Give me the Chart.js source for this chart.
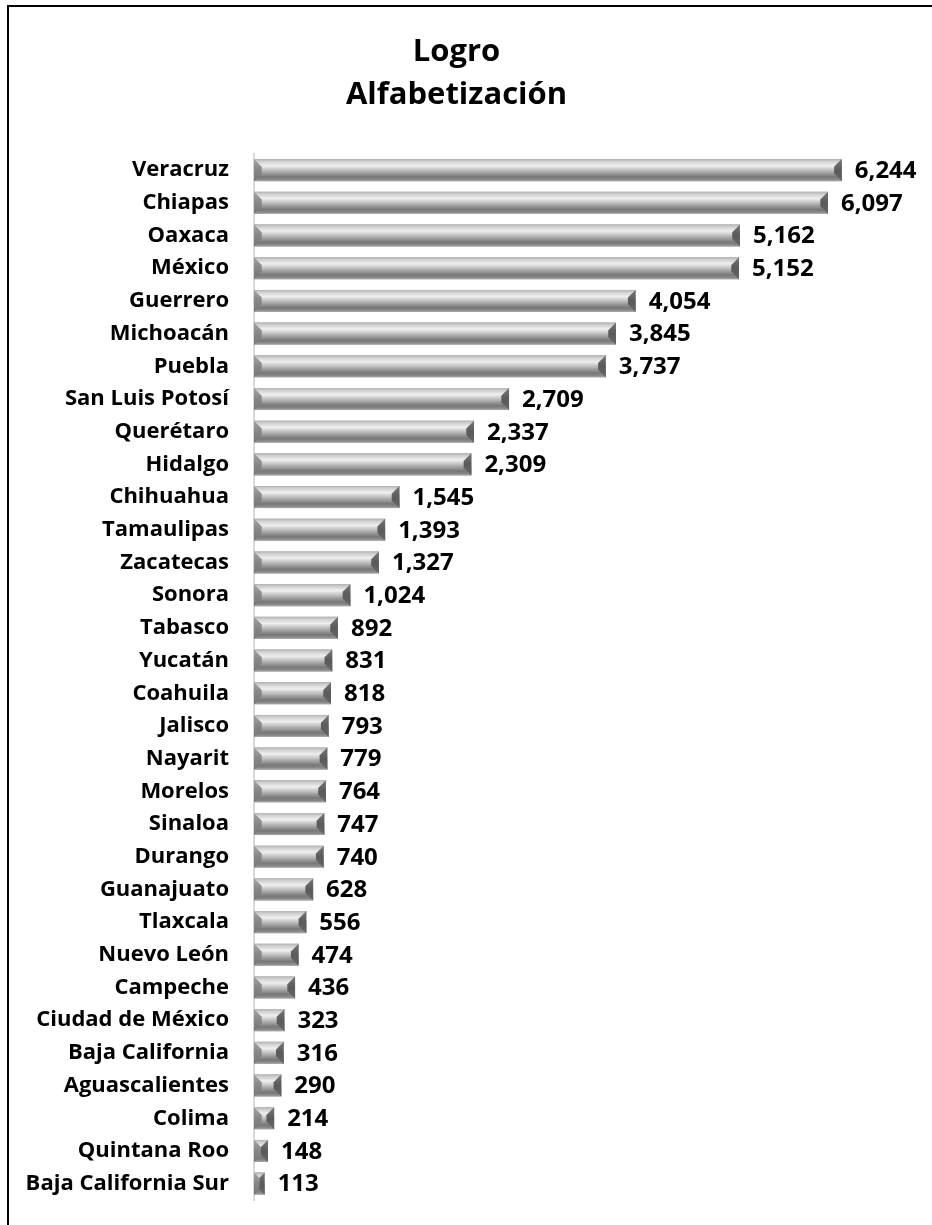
<!DOCTYPE html>
<html>
<head>
<meta charset="utf-8">
<script src="https://cdn.jsdelivr.net/npm/chart.js@4.4.1/dist/chart.umd.min.js"></script>
<style>
  html, body { margin: 0; padding: 0; background: #fff; overflow: hidden; }
  #wrap  { position: relative; width: 932px; height: 1225px; }
  #frame { position: absolute; left: 7px; top: 5px; width: 1000px; height: 1400px;
           border-top: 2px solid #000; border-left: 2px solid #000; pointer-events: none; }
  canvas { position: absolute; left: 0; top: 0; }
</style>
</head>
<body>
<div id="wrap">
  <canvas id="chart" width="932" height="1225"></canvas>
  <div id="frame"></div>
</div>
<script>
const estados = [
  'Veracruz', 'Chiapas', 'Oaxaca', 'México', 'Guerrero', 'Michoacán', 'Puebla',
  'San Luis Potosí', 'Querétaro', 'Hidalgo', 'Chihuahua', 'Tamaulipas', 'Zacatecas',
  'Sonora', 'Tabasco', 'Yucatán', 'Coahuila', 'Jalisco', 'Nayarit', 'Morelos',
  'Sinaloa', 'Durango', 'Guanajuato', 'Tlaxcala', 'Nuevo León', 'Campeche',
  'Ciudad de México', 'Baja California', 'Aguascalientes', 'Colima', 'Quintana Roo',
  'Baja California Sur'
];
const logro = [
  6244, 6097, 5162, 5152, 4054, 3845, 3737,
  2709, 2337, 2309, 1545, 1393, 1327,
  1024, 892, 831, 818, 793, 779, 764,
  747, 740, 628, 556, 474, 436,
  323, 316, 290, 214, 148,
  113
];
const tituloLineas = ['Logro', 'Alfabetización'];

const FONT = '"Open Sans", sans-serif';

// bevelled grey bars, drawn over the plain ones
const bevelBars = {
  id: 'bevelBars',
  afterDatasetsDraw(chart) {
    const ctx = chart.ctx;
    chart.getDatasetMeta(0).data.forEach(bar => {
      const p = bar.getProps(['x', 'y', 'base', 'height'], true);
      const x0 = Math.min(p.base, p.x), x1 = Math.max(p.base, p.x);
      const t = p.y - p.height / 2, b = p.y + p.height / 2, h = b - t;
      const d = Math.min(h * 0.35, (x1 - x0) / 2);

      ctx.save();
      const g = ctx.createLinearGradient(0, t, 0, b);
      g.addColorStop(0,    '#b4b4b4');
      g.addColorStop(0.12, '#d2d2d2');
      g.addColorStop(0.3,  '#efefef');
      g.addColorStop(0.45, '#cbcbcb');
      g.addColorStop(0.62, '#a2a2a2');
      g.addColorStop(0.8,  '#777777');
      g.addColorStop(0.92, '#888888');
      g.addColorStop(1,    '#aeaeae');
      ctx.fillStyle = g;
      ctx.fillRect(x0, t, x1 - x0, h);

      // left end face
      const gl = ctx.createLinearGradient(0, t, 0, b);
      gl.addColorStop(0, '#a4a4a4');
      gl.addColorStop(0.5, '#868686');
      gl.addColorStop(1, '#767676');
      ctx.fillStyle = gl;
      ctx.beginPath();
      ctx.moveTo(x0, t);
      ctx.lineTo(x0 + d, t + d);
      ctx.lineTo(x0 + d, b - d);
      ctx.lineTo(x0, b);
      ctx.closePath();
      ctx.fill();

      // right end face
      const gr = ctx.createLinearGradient(0, t, 0, b);
      gr.addColorStop(0, '#767676');
      gr.addColorStop(0.5, '#5a5a5a');
      gr.addColorStop(1, '#666666');
      ctx.fillStyle = gr;
      ctx.beginPath();
      ctx.moveTo(x1, t);
      ctx.lineTo(x1 - d, t + d);
      ctx.lineTo(x1 - d, b - d);
      ctx.lineTo(x1, b);
      ctx.closePath();
      ctx.fill();
      ctx.restore();
    });
  }
};

const valueLabels = {
  id: 'valueLabels',
  afterDatasetsDraw(chart) {
    const ctx = chart.ctx;
    const ds = chart.data.datasets[0];
    ctx.save();
    ctx.font = 'bold 24px ' + FONT;
    ctx.fillStyle = '#000';
    ctx.textAlign = 'left';
    ctx.textBaseline = 'middle';
    chart.getDatasetMeta(0).data.forEach((bar, i) => {
      ctx.fillText(ds.data[i].toLocaleString('en-US'), bar.x + 13, bar.y + 1);
    });
    ctx.restore();
  }
};

new Chart(document.getElementById('chart'), {
  type: 'bar',
  data: {
    labels: estados,
    datasets: [{
      data: logro,
      backgroundColor: '#a0a0a0',
      borderWidth: 0,
      barPercentage: 0.9,
      categoryPercentage: 0.75
    }]
  },
  options: {
    indexAxis: 'y',
    responsive: false,
    animation: false,
    events: [],
    layout: { padding: { top: 30, right: 19, bottom: 25, left: 0 } },
    scales: {
      x: { display: false, min: 0, max: 7000 },
      y: {
        afterFit: s => {
          s.width = 254;
          s.paddingTop = 0;
          s.paddingBottom = 0;
        },
        border: { display: true, color: '#d9d9d9', width: 2 },
        grid: { display: false },
        ticks: {
          color: '#000',
          padding: 17,
          font: { family: FONT, size: 22, weight: 'bold' }
        }
      }
    },
    plugins: {
      legend: { display: false },
      tooltip: { enabled: false },
      title: {
        display: true,
        text: tituloLineas,
        color: '#000',
        font: { family: FONT, size: 31, weight: 'bold', lineHeight: 1.4 },
        padding: { top: 0, bottom: 37 }
      }
    }
  },
  plugins: [bevelBars, valueLabels]
});
</script>
</body>
</html>
